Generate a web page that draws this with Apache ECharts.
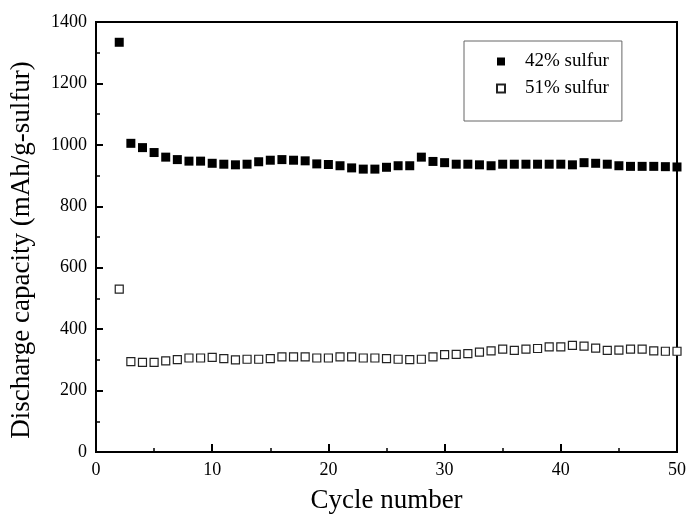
<!DOCTYPE html>
<html>
<head>
<meta charset="utf-8">
<script src="https://cdn.jsdelivr.net/npm/echarts@6/dist/echarts.min.js"></script>
<style>
  html, body { margin: 0; padding: 0; background: #fff; }
  #chart { width: 689px; height: 522px; }
</style>
</head>
<body>
<div id="chart"></div>
<script>
// Cycle index for each measurement (cycles 2..50)
const cycles = [2,3,4,5,6,7,8,9,10,11,12,13,14,15,16,17,18,19,20,21,22,23,24,25,26,
  27,28,29,30,31,32,33,34,35,36,37,38,39,40,41,42,43,44,45,46,47,48,49,50];

// Discharge capacity (mAh/g-sulfur), 42% sulfur cathode
const sulfur42 = [1334,1005,991,975,960,952,947,947,940,937,935,937,945,950,952,950,948,938,936,932,
  925,921,921,927,932,932,960,946,942,937,937,935,932,937,937,937,937,937,937,935,
  942,940,937,932,930,930,930,929,928];

// Discharge capacity (mAh/g-sulfur), 51% sulfur cathode
const sulfur51 = [530,294,292,292,297,301,306,306,308,304,300,302,302,304,310,310,310,306,306,310,
  310,306,306,304,302,301,302,310,317,318,320,325,329,335,331,335,337,342,342,347,
  345,338,331,332,335,335,329,328,328];

const seriesNames = ['42% sulfur', '51% sulfur'];
const xTicks = [0, 10, 20, 30, 40, 50];
const yTicks = [0, 200, 400, 600, 800, 1000, 1200, 1400];

const pair = (vals) => cycles.map((c, i) => [c, vals[i]]);

const serif = '"Liberation Serif", "DejaVu Serif", serif';
const chart = echarts.init(document.getElementById('chart'), null, { renderer: 'canvas' });

chart.setOption({
  backgroundColor: '#fff',
  animation: false,
  grid: {
    left: 96, right: 11, top: 22, bottom: 70,
    show: true, borderColor: '#000', borderWidth: 2, containLabel: false
  },
  legend: {
    left: 464, top: 41,
    orient: 'vertical',
    data: seriesNames,
    itemWidth: 8, itemHeight: 8,
    itemGap: 8,
    padding: [11, 13, 23, 32],
    borderColor: '#666', borderWidth: 1,
    textStyle: { fontFamily: serif, fontSize: 19, color: '#000', lineHeight: 18, padding: [0, 0, 0, 15] }
  },
  xAxis: {
    type: 'value',
    min: xTicks[0], max: xTicks[xTicks.length - 1], interval: 10,
    name: 'Cycle number',
    nameLocation: 'middle', nameGap: 35,
    nameTextStyle: { fontFamily: serif, fontSize: 27, color: '#000' },
    axisLine: { show: true, lineStyle: { color: '#000', width: 2 } },
    axisTick: { show: true, inside: true, length: 8, lineStyle: { color: '#000', width: 2 } },
    minorTick: { show: true, splitNumber: 2, length: 4, lineStyle: { color: '#000', width: 1.5 } },
    splitLine: { show: false },
    axisLabel: { fontFamily: serif, fontSize: 18, color: '#000', margin: 9 }
  },
  yAxis: {
    type: 'value',
    min: yTicks[0], max: yTicks[yTicks.length - 1], interval: 200,
    name: 'Discharge capacity (mAh/g-sulfur)',
    nameLocation: 'middle', nameGap: 61,
    nameTextStyle: { fontFamily: serif, fontSize: 27, color: '#000', padding: [0, 26, 0, 0] },
    axisLine: { show: true, lineStyle: { color: '#000', width: 2 } },
    axisTick: { show: true, inside: true, length: 7, lineStyle: { color: '#000', width: 2 } },
    minorTick: { show: true, splitNumber: 2, length: 4, lineStyle: { color: '#000', width: 1.5 } },
    splitLine: { show: false },
    axisLabel: { fontFamily: serif, fontSize: 18, color: '#000', margin: 9, formatter: (v) => String(v) }
  },
  series: [
    {
      name: seriesNames[0],
      type: 'scatter',
      symbol: 'rect',
      symbolSize: 9,
      itemStyle: { color: '#000', opacity: 1 },
      data: pair(sulfur42)
    },
    {
      name: seriesNames[1],
      type: 'scatter',
      symbol: 'rect',
      symbolSize: 8,
      itemStyle: { color: '#fff', borderColor: '#222', borderWidth: 1.2, opacity: 1 },
      data: pair(sulfur51)
    }
  ]
});
</script>
</body>
</html>
